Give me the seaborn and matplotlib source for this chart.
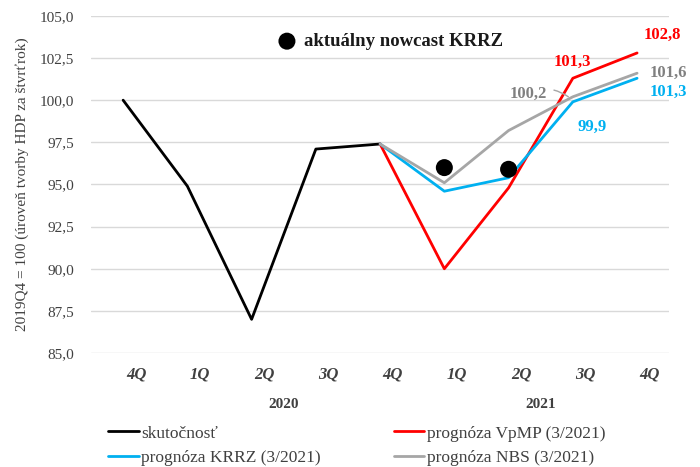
import matplotlib
matplotlib.use("Agg")
import matplotlib.pyplot as plt
import matplotlib.transforms as mtransforms
import seaborn as sns
import pandas as pd

quarters = ['4Q', '1Q', '2Q', '3Q', '4Q', '1Q', '2Q', '3Q', '4Q']
years = ['2020', '2021']
year_pos = [2.5, 6.5]

actual = [100.0, 94.9, 87.0, 97.1, 97.4]
vpmp = [97.4, 90.0, 94.8, 101.3, 102.8]
krrz = [97.4, 94.6, 95.4, 99.9, 101.3]
nbs = [97.4, 95.1, 98.2, 100.2, 101.6]
nowcast = [96.0, 95.9]

y_ticks = [85.0, 87.5, 90.0, 92.5, 95.0, 97.5, 100.0, 102.5, 105.0]


def fmt(v):
    return f"{v:.1f}".replace('.', ',')


def main():
    sns.set_theme(style="white")
    plt.rcParams['font.family'] = ['Liberation Serif', 'DejaVu Serif']

    fig = plt.figure(figsize=(7, 4.67), dpi=100)
    ax = fig.add_axes([0.13, 0.244, 0.826, 0.722])

    x_act = list(range(0, 5))
    x_fc = list(range(4, 9))
    x_now = [5, 6]

    df = pd.concat([
        pd.DataFrame({'x': x_act, 'y': actual, 's': 'skutočnosť'}),
        pd.DataFrame({'x': x_fc, 'y': vpmp, 's': 'prognóza VpMP (3/2021)'}),
        pd.DataFrame({'x': x_fc, 'y': krrz, 's': 'prognóza KRRZ (3/2021)'}),
        pd.DataFrame({'x': x_fc, 'y': nbs, 's': 'prognóza NBS (3/2021)'}),
    ])
    palette = {
        'skutočnosť': '#000000',
        'prognóza VpMP (3/2021)': '#FF0000',
        'prognóza KRRZ (3/2021)': '#00B0F0',
        'prognóza NBS (3/2021)': '#A6A6A6',
    }

    for y in y_ticks:
        ax.axhline(y, color='#D9D9D9', lw=1, zorder=0)

    sns.lineplot(data=df, x='x', y='y', hue='s', palette=palette, lw=2,
                 ax=ax, legend=False, sort=False, estimator=None)
    sns.scatterplot(x=x_now, y=nowcast, color='black', s=150, ax=ax,
                    zorder=5, edgecolor='none')

    ax.set_xlim(-0.5, 8.5)
    ax.set_ylim(85, 105)
    ax.set_yticks(y_ticks)
    ax.set_yticklabels([fmt(v) for v in y_ticks], fontsize=11, color='#404040')
    # Excel puts the quarter labels a bit to the right of the points
    ax.set_xticks([i + 0.2 for i in range(len(quarters))])
    ax.set_xticklabels(quarters, fontsize=12, fontstyle='italic',
                       fontweight='bold', color='#404040')
    ax.tick_params(axis='x', pad=10, length=0)
    ax.tick_params(axis='y', length=0, pad=12)
    ax.set_xlabel('')
    ax.set_ylabel('2019Q4 = 100 (úroveň tvorby HDP za štvrťrok)',
                  fontsize=11, color='#404040', labelpad=8)
    for s in ax.spines.values():
        s.set_visible(False)

    trans = mtransforms.blended_transform_factory(ax.transData, fig.transFigure)
    for yr, p in zip(years, year_pos):
        ax.text(p, 1 - 404 / 467, yr, transform=trans, ha='center',
                va='center', fontsize=11, fontweight='bold', color='#404040')

    # data labels
    ax.text(7, vpmp[3] + 0.5, fmt(vpmp[3]), color='#FF0000', fontsize=12,
            fontweight='bold', ha='center', va='bottom')
    ax.text(8.4, vpmp[4] + 0.6, fmt(vpmp[4]), color='#FF0000', fontsize=12,
            fontweight='bold', ha='center', va='bottom')
    ax.text(8.2, nbs[4], fmt(nbs[4]), color='#808080', fontsize=12,
            fontweight='bold', ha='left', va='center')
    ax.text(8.2, krrz[4] - 0.8, fmt(krrz[4]), color='#00B0F0', fontsize=12,
            fontweight='bold', ha='left', va='center')
    ax.text(7.3, krrz[3] - 1.5, fmt(krrz[3]), color='#00B0F0', fontsize=12,
            fontweight='bold', ha='center', va='center')
    ax.annotate(fmt(nbs[3]), xy=(6.93, nbs[3]), xytext=(6.3, nbs[3] + 0.17),
                color='#808080', fontsize=12, fontweight='bold', ha='center',
                va='center',
                arrowprops=dict(arrowstyle='-', color='#A6A6A6', lw=1,
                                shrinkA=3, shrinkB=0,
                                connectionstyle='arc3,rad=-0.3'))

    # nowcast legend
    ax.scatter([2.55], [103.5], s=150, color='black', edgecolor='none')
    ax.text(2.82, 103.5, 'aktuálny nowcast KRRZ', fontsize=13.5,
            fontweight='bold', va='center', ha='left', color='#1a1a1a')

    handles = [plt.Line2D([], [], color=palette[k], lw=2) for k in palette]
    labels = list(palette)
    order = [0, 2, 1, 3]
    fig.legend([handles[i] for i in order], [labels[i] for i in order],
               loc='upper left', bbox_to_anchor=(0.145, 0.104), ncol=2,
               frameon=False, fontsize=12.5, handlelength=1.75, handletextpad=0.15,
               columnspacing=4.2, labelspacing=0.5, borderaxespad=0,
               labelcolor='#404040')

    fig.savefig('out.png', dpi=100)


if __name__ == '__main__':
    main()
